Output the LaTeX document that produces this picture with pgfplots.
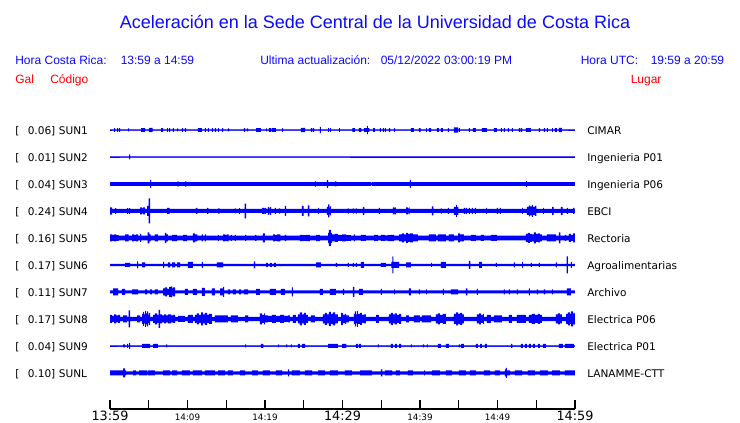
\documentclass[border=0pt]{standalone}
\usepackage{pgfplots}
\pgfplotsset{compat=1.18}
\usepackage{pgfplotstable}
\usepackage{fontspec}
\setmainfont{DejaVu Sans}
\newfontfamily\hel{Liberation Sans}
\definecolor{tblue}{RGB}{0,0,255}
\definecolor{txtblue}{RGB}{10,10,250}
\definecolor{txtred}{RGB}{255,0,0}

% px = pixel column of the trace (13:59 at 110, 14:59 at 575); h = half height of the trace (px)
\pgfplotstableread[row sep=\\]{px h\\
110 0.5\\ 114 1.8\\ 115 0.5\\ 117 1.8\\ 118 0.5\\ 119 1.8\\ 120 0.5\\ 128 1.5\\ 129 0.5\\ 141 1.8\\ 145 0.5\\ 149 2.2\\ 152.5 0.5\\ 161 1.8\\ 163 0.5\\ 167 1.8\\ 168 0.5\\ 169 1.8\\ 170 0.5\\ 173 1.8\\ 174 0.5\\ 177 1.5\\ 178 0.5\\ 182 1.8\\ 183 0.5\\ 185 1.8\\ 186 0.5\\ 198 1.8\\ 202 0.5\\ 205 1.8\\ 206 0.5\\ 208 1.8\\ 209 0.5\\ 212 1.8\\ 213 0.5\\ 215 1.8\\ 216 0.5\\ 218 1.8\\ 219 0.5\\ 222 1.8\\ 223 0.5\\ 228 1.5\\ 229 0.5\\ 244 1.8\\ 245 0.5\\ 247 1.5\\ 248 0.5\\ 256 1.8\\ 261 0.5\\ 266 1.5\\ 267 0.5\\ 269 1.8\\ 271 0.5\\ 272 1.8\\ 276 0.5\\ 282 1.8\\ 283 0.5\\ 301 2.2\\ 305 0.5\\ 311 1.8\\ 312 0.5\\ 313 1.8\\ 314 0.5\\ 320 3.2\\ 321 0.5\\ 328 1.8\\ 329 0.5\\ 330 1.8\\ 331 0.5\\ 339 1.8\\ 340 0.5\\ 352.5 1.8\\ 355 0.5\\ 359 1.8\\ 361.5 0.5\\ 364 1.8\\ 367 4.2\\ 368 1.8\\ 369.5 0.5\\ 373 1.8\\ 375 0.5\\ 380 1.8\\ 381 0.5\\ 383 1.8\\ 384 0.5\\ 385 1.8\\ 386 0.5\\ 389 1.8\\ 390 0.5\\ 394 1.8\\ 395 0.5\\ 411 1.8\\ 414 0.5\\ 419 1.8\\ 420.5 0.5\\ 426 1.8\\ 427 0.5\\ 429 1.8\\ 431 0.5\\ 437 1.8\\ 439 0.5\\ 441 1.8\\ 443 0.5\\ 448 1.8\\ 449 0.5\\ 454 2.6\\ 458 0.5\\ 459 1.8\\ 460 0.5\\ 469 1.8\\ 470 0.5\\ 473 1.8\\ 476 0.5\\ 482 1.8\\ 487 0.5\\ 494 1.8\\ 497 0.5\\ 501 1.8\\ 502 0.5\\ 504 1.8\\ 505 0.5\\ 508 1.8\\ 509 0.5\\ 512 1.8\\ 513 0.5\\ 519 1.8\\ 520 0.5\\ 521 1.8\\ 522 0.5\\ 526 1.8\\ 531 0.5\\ 539 1.8\\ 540 0.5\\ 544 1.8\\ 545 0.5\\ 547 1.8\\ 548 0.5\\ 552 1.8\\ 553 0.5\\ 555 1.8\\ 557 0.5\\ 559 2.2\\ 562 0.5\\ 575 0.5\\
}\sunA

\pgfplotstableread[row sep=\\]{px h\\
110 0.5\\ 129 2.5\\ 130 0.5\\ 575 0.5\\
}\sunB

\pgfplotstableread[row sep=\\]{px h\\
110 1.8\\ 150 4\\ 151 1.8\\ 177 2.3\\ 179 1.8\\ 185 2.6\\ 186.5 1.8\\ 315 2.6\\ 316 1.8\\ 327 4\\ 328 1.8\\ 335 2.5\\ 336.5 1.8\\ 371 1\\ 372 1.8\\ 410 4\\ 411 1.8\\ 526 3\\ 527 1.8\\ 575 1.8\\
}\sunC

\pgfplotstableread[row sep=\\]{px h\\
110 3.7\\ 112 2\\ 115 2.8\\ 116 2\\ 127 2.8\\ 128 2\\ 129 2.8\\ 130 2\\ 140 3.5\\ 142 2.5\\ 143 3.5\\ 145 2\\ 147 5\\ 148.5 12.5\\ 150 2\\ 167 3\\ 169.5 2\\ 196 3\\ 197.5 2\\ 207 3\\ 208.5 2\\ 218 2.7\\ 219.5 2\\ 235 2.5\\ 236 2\\ 239 2.8\\ 240 2\\ 244.5 7.3\\ 246 2\\ 262 3\\ 264 2.5\\ 265 3\\ 266 2\\ 268 4\\ 269 2.5\\ 270 4\\ 271 2\\ 275 3\\ 276 2\\ 279 2.7\\ 280 2\\ 285 5\\ 286 2\\ 302 5\\ 303.5 2\\ 308 5.5\\ 309.5 2\\ 318 3\\ 319 2\\ 327 4\\ 328 6.5\\ 329.5 3\\ 330 4.5\\ 331 2\\ 348 2.7\\ 349 2\\ 353 2.7\\ 354 2\\ 356 2.7\\ 357 2\\ 363 3.8\\ 364.5 2\\ 379 3\\ 380 2\\ 393 3.5\\ 394.5 2.5\\ 395 3.5\\ 396 2\\ 406 3.5\\ 408 2.5\\ 409 3.5\\ 409.5 2\\ 432 4.5\\ 433.5 2\\ 441 2.7\\ 442 2\\ 448 3\\ 449 2\\ 454 4\\ 456 6\\ 457 4\\ 458.5 2\\ 464 3\\ 465 2\\ 466 3\\ 467 2\\ 469 3\\ 470 2\\ 472 3\\ 473 2\\ 475 3\\ 476 2\\ 486 3\\ 487 2\\ 497 3\\ 498 2\\ 500 3\\ 501 2\\ 522 3\\ 523 2\\ 527 4\\ 529 5.5\\ 530 4.5\\ 532 6\\ 533 4\\ 535 5\\ 536.5 2\\ 543 3\\ 544 2\\ 552 4\\ 553.5 2\\ 561 4\\ 562.5 2\\ 567 3\\ 568 2\\ 573 3\\ 574.5 2\\ 575 2\\
}\sunD

\pgfplotstableread[row sep=\\]{px h\\
110 3.5\\ 112 3\\ 114 3.5\\ 116 2.8\\ 118.5 2.4\\ 125 3.5\\ 128.5 2.4\\ 132 3.5\\ 134 3\\ 136 3.5\\ 138 2.4\\ 140 4\\ 141 2.4\\ 147.5 5.5\\ 149.5 3.5\\ 150.5 2.4\\ 155 3.5\\ 158 2.4\\ 165 5\\ 166.5 3.5\\ 168 2.4\\ 172 3.2\\ 177 2.4\\ 183 3.2\\ 187 2.4\\ 193 4.5\\ 195 3.5\\ 197.5 2.4\\ 202 3.5\\ 203 2.4\\ 205 3.5\\ 206 2.4\\ 218 3\\ 219 2.4\\ 223 3.5\\ 225 3\\ 227 3.5\\ 228.5 2.4\\ 231 3\\ 232 2.4\\ 235 3\\ 236 2.4\\ 245 3\\ 246 2.4\\ 255 3\\ 256.5 2.4\\ 263 4.5\\ 265 2.4\\ 273 3.5\\ 275 2.8\\ 277 3.5\\ 280.5 2.4\\ 285 3.2\\ 286 2.4\\ 300 3.2\\ 303 2.8\\ 306 3.2\\ 310 2.4\\ 316 3.2\\ 320 2.4\\ 328 5\\ 329 8\\ 331 5\\ 332 3.5\\ 335 4\\ 338 3\\ 342 3.5\\ 346 2.8\\ 351 2.4\\ 354 3.5\\ 355 2.4\\ 361 3\\ 366 2.4\\ 374 3\\ 378 2.4\\ 381 3\\ 385 2.7\\ 388 3.2\\ 394 2.4\\ 399 3.5\\ 402 4.5\\ 404 3.5\\ 406 5\\ 408 4\\ 410 4.5\\ 413 3.5\\ 418 2.4\\ 429 3.5\\ 436 2.4\\ 438 3.5\\ 446 2.4\\ 449 3.5\\ 454 2.4\\ 458 4.5\\ 460 3.5\\ 464 2.4\\ 471 3\\ 476 2.4\\ 481 3\\ 484 2.4\\ 491 3\\ 497 2.4\\ 526 4\\ 528 5\\ 530 4\\ 532 3.5\\ 534 5.5\\ 536 4\\ 538 4.5\\ 540 3.5\\ 542 2.4\\ 547 3.5\\ 556 2.4\\ 559 5.5\\ 560.5 2.4\\ 565 3\\ 566 2.4\\ 569 4\\ 571 3\\ 573 4.5\\ 575 4\\
}\sunE

\pgfplotstableread[row sep=\\]{px h\\
110 1.2\\ 125 2\\ 130 1.2\\ 137 3.5\\ 138 1.2\\ 142 2.5\\ 145 1.2\\ 163 3\\ 164 1.2\\ 168 2.5\\ 170 1.2\\ 172 2.5\\ 175 1.2\\ 177 2.5\\ 180 1.2\\ 188 3\\ 193 1.2\\ 202 3\\ 203 1.2\\ 217 2.5\\ 223 1.2\\ 254 3.5\\ 255 1.2\\ 266 2\\ 268 1.2\\ 270 2\\ 272 1.2\\ 274 2\\ 276 1.2\\ 316 2.5\\ 321 1.2\\ 336 2\\ 337 1.2\\ 348 2\\ 349 1.2\\ 353 2\\ 354 1.2\\ 356 2\\ 357 1.2\\ 361 3\\ 364 1.2\\ 381 2\\ 386 1.2\\ 391.5 3\\ 392.5 8.5\\ 393.5 3\\ 399 1.2\\ 406 2.5\\ 411 1.2\\ 431 2\\ 432 1.2\\ 441 3\\ 446 1.2\\ 469 4\\ 470.5 1.2\\ 479 3\\ 482 1.2\\ 496 2\\ 497 1.2\\ 514 2.5\\ 515 1.2\\ 522 3\\ 523 1.2\\ 531 2\\ 532 1.2\\ 539 2\\ 540 1.2\\ 556 2.5\\ 557 1.2\\ 566.5 8.5\\ 568 1.2\\ 571 3\\ 572 1.2\\ 575 1.2\\
}\sunF

\pgfplotstableread[row sep=\\]{px h\\
110 1.5\\ 113 3.5\\ 118 1.5\\ 122 3\\ 125 1.5\\ 132 2.5\\ 138 1.5\\ 145 2.5\\ 147 1.5\\ 150 2.5\\ 152 1.5\\ 155 2.5\\ 158 1.5\\ 163 3.5\\ 165 4.5\\ 167 3\\ 169 5\\ 171 5.5\\ 172 3.5\\ 173 4.5\\ 175 1.5\\ 185 3\\ 188 1.5\\ 193 3\\ 197 1.5\\ 202 4\\ 205 1.5\\ 212 3.5\\ 215 1.5\\ 220 3.5\\ 223 5\\ 224 1.5\\ 228 2.5\\ 230 1.5\\ 233 2.5\\ 236 1.5\\ 239 2.5\\ 241 1.5\\ 244 2.5\\ 248 1.5\\ 256 3\\ 260 1.5\\ 270 3\\ 276 1.5\\ 281 3\\ 285 1.5\\ 292 4.5\\ 293 1.5\\ 320 3\\ 323 1.5\\ 330 3\\ 336 1.5\\ 343 3\\ 344 1.5\\ 353 5\\ 354.5 1.5\\ 359 3\\ 363 1.5\\ 381 3\\ 382 1.5\\ 394 2.5\\ 395 1.5\\ 409 3.5\\ 411 1.5\\ 419 2.5\\ 420 1.5\\ 426 2.5\\ 427 1.5\\ 443 3\\ 444 1.5\\ 451 2.5\\ 458 1.5\\ 466 3.5\\ 467.5 1.5\\ 477 3\\ 478 1.5\\ 504 2.5\\ 505 1.5\\ 509 2.5\\ 510 1.5\\ 517 2.5\\ 518 1.5\\ 529 3.5\\ 530 1.5\\ 537 2.5\\ 538 1.5\\ 544 2.5\\ 545 1.5\\ 552 2.5\\ 553 1.5\\ 567 3.5\\ 571 1.5\\ 575 1.5\\
}\sunG

\pgfplotstableread[row sep=\\]{px h\\
110 4\\ 112 3\\ 114 4.5\\ 116 3.5\\ 118 4\\ 120 2.2\\ 123 3.5\\ 127 2.2\\ 128.5 8.5\\ 130 2.2\\ 137 3.5\\ 140 2.2\\ 142 5\\ 143 7\\ 144 4.5\\ 145 8\\ 146 5.5\\ 147 7.5\\ 148 4\\ 149 6\\ 150 2.2\\ 153 4\\ 155 5.5\\ 157 4\\ 158.5 9\\ 160 4.5\\ 162 3.5\\ 164 4.5\\ 166 3.5\\ 168 4.5\\ 171 3.5\\ 173 4\\ 175 2.2\\ 178 3\\ 185 2.2\\ 188 4\\ 193 2.2\\ 195 4\\ 197 5.5\\ 199 4\\ 201 6.5\\ 203 4.5\\ 205 6\\ 207 4\\ 209 5\\ 212 2.2\\ 215 3.5\\ 228 2.2\\ 231 3.5\\ 238 2.2\\ 245 3.5\\ 248 2.2\\ 260 5.5\\ 262 4\\ 264 5.5\\ 265 3.5\\ 268 3\\ 272 4\\ 276 3\\ 280 4\\ 284 3\\ 288 3.5\\ 290 2.2\\ 293 4\\ 296 2.2\\ 298 4.5\\ 300 6.5\\ 302 4.5\\ 304 6\\ 306 4\\ 308 2.2\\ 311 3.5\\ 315 2.2\\ 323 4.5\\ 325 6\\ 327 4.5\\ 329 7\\ 331 5\\ 333 6.5\\ 335 4.5\\ 338 2.2\\ 341 6\\ 343 4\\ 345 5\\ 346 3.5\\ 349 2.2\\ 354 5\\ 355 7.5\\ 356 4.5\\ 357 8\\ 358 5\\ 360 6\\ 362 4\\ 364 4.5\\ 366 2.2\\ 376 4\\ 379 2.2\\ 389 4.5\\ 391 6\\ 393 4.5\\ 395 5.5\\ 397 4\\ 399 5\\ 401 2.2\\ 406 3.5\\ 409 2.2\\ 414 3.5\\ 420 2.2\\ 422 3.5\\ 431 2.2\\ 436 4.5\\ 438 5.5\\ 440 4\\ 443 5\\ 446 2.2\\ 454 5\\ 456 6.5\\ 458 5\\ 460 6\\ 462 4.5\\ 464 2.2\\ 477 4.5\\ 479 5.5\\ 481 4\\ 483 5\\ 484 2.2\\ 487 4\\ 491 2.2\\ 494 3.5\\ 502 2.2\\ 509 4\\ 512 2.2\\ 517 4\\ 526 2.2\\ 529 4\\ 532 5\\ 535 4\\ 538 5\\ 540 4\\ 542 2.2\\ 556 4.5\\ 558 5.5\\ 560 4.5\\ 562 2.2\\ 566 5\\ 568 6.5\\ 570 5\\ 571 7.5\\ 573 5.5\\ 575 6.5\\
}\sunH

\pgfplotstableread[row sep=\\]{px h\\
110 0.6\\ 123 1.5\\ 125 0.6\\ 127 2\\ 128 0.6\\ 129 3\\ 130 0.6\\ 142 2\\ 150 0.6\\ 153 2\\ 158 0.6\\ 166 1.5\\ 167 0.6\\ 245 1.5\\ 246 0.6\\ 261 2\\ 263.5 0.6\\ 278 1.5\\ 279 0.6\\ 286 1.5\\ 287 0.6\\ 291 1.5\\ 292 0.6\\ 298 2\\ 300 0.6\\ 302 2\\ 305 0.6\\ 328 2\\ 338 0.6\\ 342 2\\ 346.5 0.6\\ 356 2\\ 358 0.6\\ 359 2\\ 361 0.6\\ 378 1.5\\ 379 0.6\\ 391 2\\ 393 0.6\\ 395 2\\ 397 0.6\\ 399 2\\ 401 0.6\\ 411 1.5\\ 412 0.6\\ 423 1.5\\ 424 0.6\\ 427 1.5\\ 428 0.6\\ 438 2\\ 441 0.6\\ 446 2\\ 449 0.6\\ 459 1.5\\ 460 0.6\\ 461 2\\ 464 0.6\\ 476 2\\ 478 0.6\\ 480 2\\ 482 0.6\\ 485 2\\ 487 0.6\\ 511 2\\ 512.5 0.6\\ 521 2\\ 523 0.6\\ 525 2\\ 527 0.6\\ 529 2\\ 531 0.6\\ 533 2\\ 535 0.6\\ 538 2\\ 540 0.6\\ 543 2\\ 546 0.6\\ 559 2\\ 563 0.6\\ 565 2\\ 574 0.6\\ 575 0.6\\
}\sunI

\pgfplotstableread[row sep=\\]{px h\\
110 2.5\\ 123 4.5\\ 125 2.5\\ 126 1.6\\ 133 2.5\\ 136 1.6\\ 139 2.5\\ 147 1.6\\ 148 2.5\\ 155 1.6\\ 163 2.5\\ 170 1.6\\ 172 2.5\\ 177 1.6\\ 182 2.5\\ 190 1.6\\ 193 2.5\\ 202 1.6\\ 205 2.5\\ 215 1.6\\ 218 2.5\\ 225 1.6\\ 228 2.5\\ 233 1.6\\ 240 2.5\\ 245 1.6\\ 252 2.5\\ 258 1.6\\ 263 2.5\\ 270 1.6\\ 276 2.5\\ 282 1.6\\ 288 3.5\\ 289 1.6\\ 292 2.5\\ 300 1.6\\ 305 2.5\\ 312 1.6\\ 318 2.5\\ 325 1.6\\ 330 2.5\\ 338 1.6\\ 345 2.5\\ 352 1.6\\ 360 2.5\\ 372 1.6\\ 381 3.5\\ 382.5 1.6\\ 385 2.5\\ 392 1.6\\ 396 2.5\\ 400 1.6\\ 408 2.5\\ 413 1.6\\ 424 2.5\\ 425 1.6\\ 432 2.5\\ 440 1.6\\ 446 2.5\\ 452 1.6\\ 459 2.5\\ 466 1.6\\ 470 2.5\\ 476 1.6\\ 484 2.5\\ 490 1.6\\ 495 2.5\\ 500 1.6\\ 505 3.5\\ 506 5\\ 507 2.5\\ 510 1.6\\ 515 2.5\\ 522 1.6\\ 528 2.5\\ 535 1.6\\ 540 2.5\\ 548 1.6\\ 552 2.5\\ 560 1.6\\ 565 2.5\\ 575 2.5\\
}\sunL

\pgfplotsset{trace axis/.style={
  anchor=west, scale only axis, width=348.75pt, height=20.25pt,
  xmin=0, xmax=60, ymin=-13.5, ymax=13.5, hide axis, clip=false}}

% one trace: an axis whose y=0 is the trace's centre line (#2 = centre row in px from top)
\newcommand{\trace}[2]{%
  \begin{axis}[trace axis, at={(82.5pt,-#2*0.75pt)}]
  \addplot[const plot, fill=tblue, draw=none] table[x expr=(\thisrow{px}-110)/7.75, y expr=\thisrow{h}] {#1} \closedcycle;
  \addplot[const plot, fill=tblue, draw=none] table[x expr=(\thisrow{px}-110)/7.75, y expr=-\thisrow{h}] {#1} \closedcycle;
  \addplot[tblue, line width=0.4pt] table[x expr=(\thisrow{px}-110)/7.75, y expr=0] {#1};
  \end{axis}}

\begin{document}
\begin{tikzpicture}
\path[use as bounding box] (0pt,0pt) rectangle (555pt,-317.25pt);
\trace{\sunA}{130}
\trace{\sunB}{157}
\trace{\sunC}{184}
\trace{\sunD}{211}
\trace{\sunE}{238}
\trace{\sunF}{265}
\trace{\sunG}{292}
\trace{\sunH}{319}
\trace{\sunI}{346}
\trace{\sunL}{373}
\begin{axis}[
  at={(82.5pt,-306.75pt)}, anchor=south west,
  scale only axis, width=348.75pt, height=20pt,
  xmin=0, xmax=60, ymin=0, ymax=1,
  axis lines*=left, y axis line style={draw=none}, ytick=\empty,
  x axis line style={black, line width=1.1pt},
  xtick={0,5,...,60},
  tick align=inside, major tick length=6.75pt,
  xtick style={black, line width=1pt},
  xticklabels={{\fontsize{9.6}{10}\selectfont 13:59},{},{\fontsize{6.6}{7}\selectfont 14:09},{},{\fontsize{6.6}{7}\selectfont 14:19},{},{\fontsize{9.6}{10}\selectfont 14:29},{},{\fontsize{6.6}{7}\selectfont 14:39},{},{\fontsize{6.6}{7}\selectfont 14:49},{},{\fontsize{9.6}{10}\selectfont 14:59}},
  xticklabel style={anchor=base, yshift=-8.6pt, inner sep=0pt, text=black},
  clip=false,
]
\end{axis}
\begin{scope}[x=0.75pt, y=-0.75pt]
\node[anchor=base, inner sep=0, text=txtblue, font=\hel\fontsize{13.5}{16}\selectfont] at (375,29) {Aceleración en la Sede Central de la Universidad de Costa Rica};
\begin{scope}[every node/.style={anchor=base west, inner sep=0, font=\hel\fontsize{9}{11}\selectfont}]
\node[text=txtblue] at (15,65) {Hora Costa Rica:};
\node[text=txtblue] at (120.5,65) {13:59 a 14:59};
\node[text=txtblue] at (260,65) {Ultima actualización:};
\node[text=txtblue] at (380.5,65) {05/12/2022 03:00:19 PM};
\node[text=txtblue] at (580.5,65) {Hora UTC:};
\node[text=txtblue] at (650.5,65) {19:59 a 20:59};
\node[text=txtred] at (15,84) {Gal};
\node[text=txtred] at (50,84) {Código};
\node[text=txtred] at (630.5,84) {Lugar};
\end{scope}
\begin{scope}[every node/.style={anchor=base west, inner sep=0, font=\fontsize{7.9}{9}\selectfont, text=black}]
\foreach \c/\v/\n [count=\i from 0] in {SUN1/0.06/CIMAR, SUN2/0.01/Ingenieria P01, SUN3/0.04/Ingenieria P06, SUN4/0.24/EBCI, SUN5/0.16/Rectoria, SUN6/0.17/Agroalimentarias, SUN7/0.11/Archivo, SUN8/0.17/Electrica P06, SUN9/0.04/Electrica P01, SUNL/0.10/LANAMME-CTT}{
  \pgfmathsetmacro{\yy}{134.5+27*\i}
  \node at (15,\yy) {[};
  \node at (27.5,\yy) {\v]};
  \node at (58.7,\yy) {\c};
  \node at (587,\yy) {\n};
}
\end{scope}
\end{scope}
\end{tikzpicture}
\end{document}
